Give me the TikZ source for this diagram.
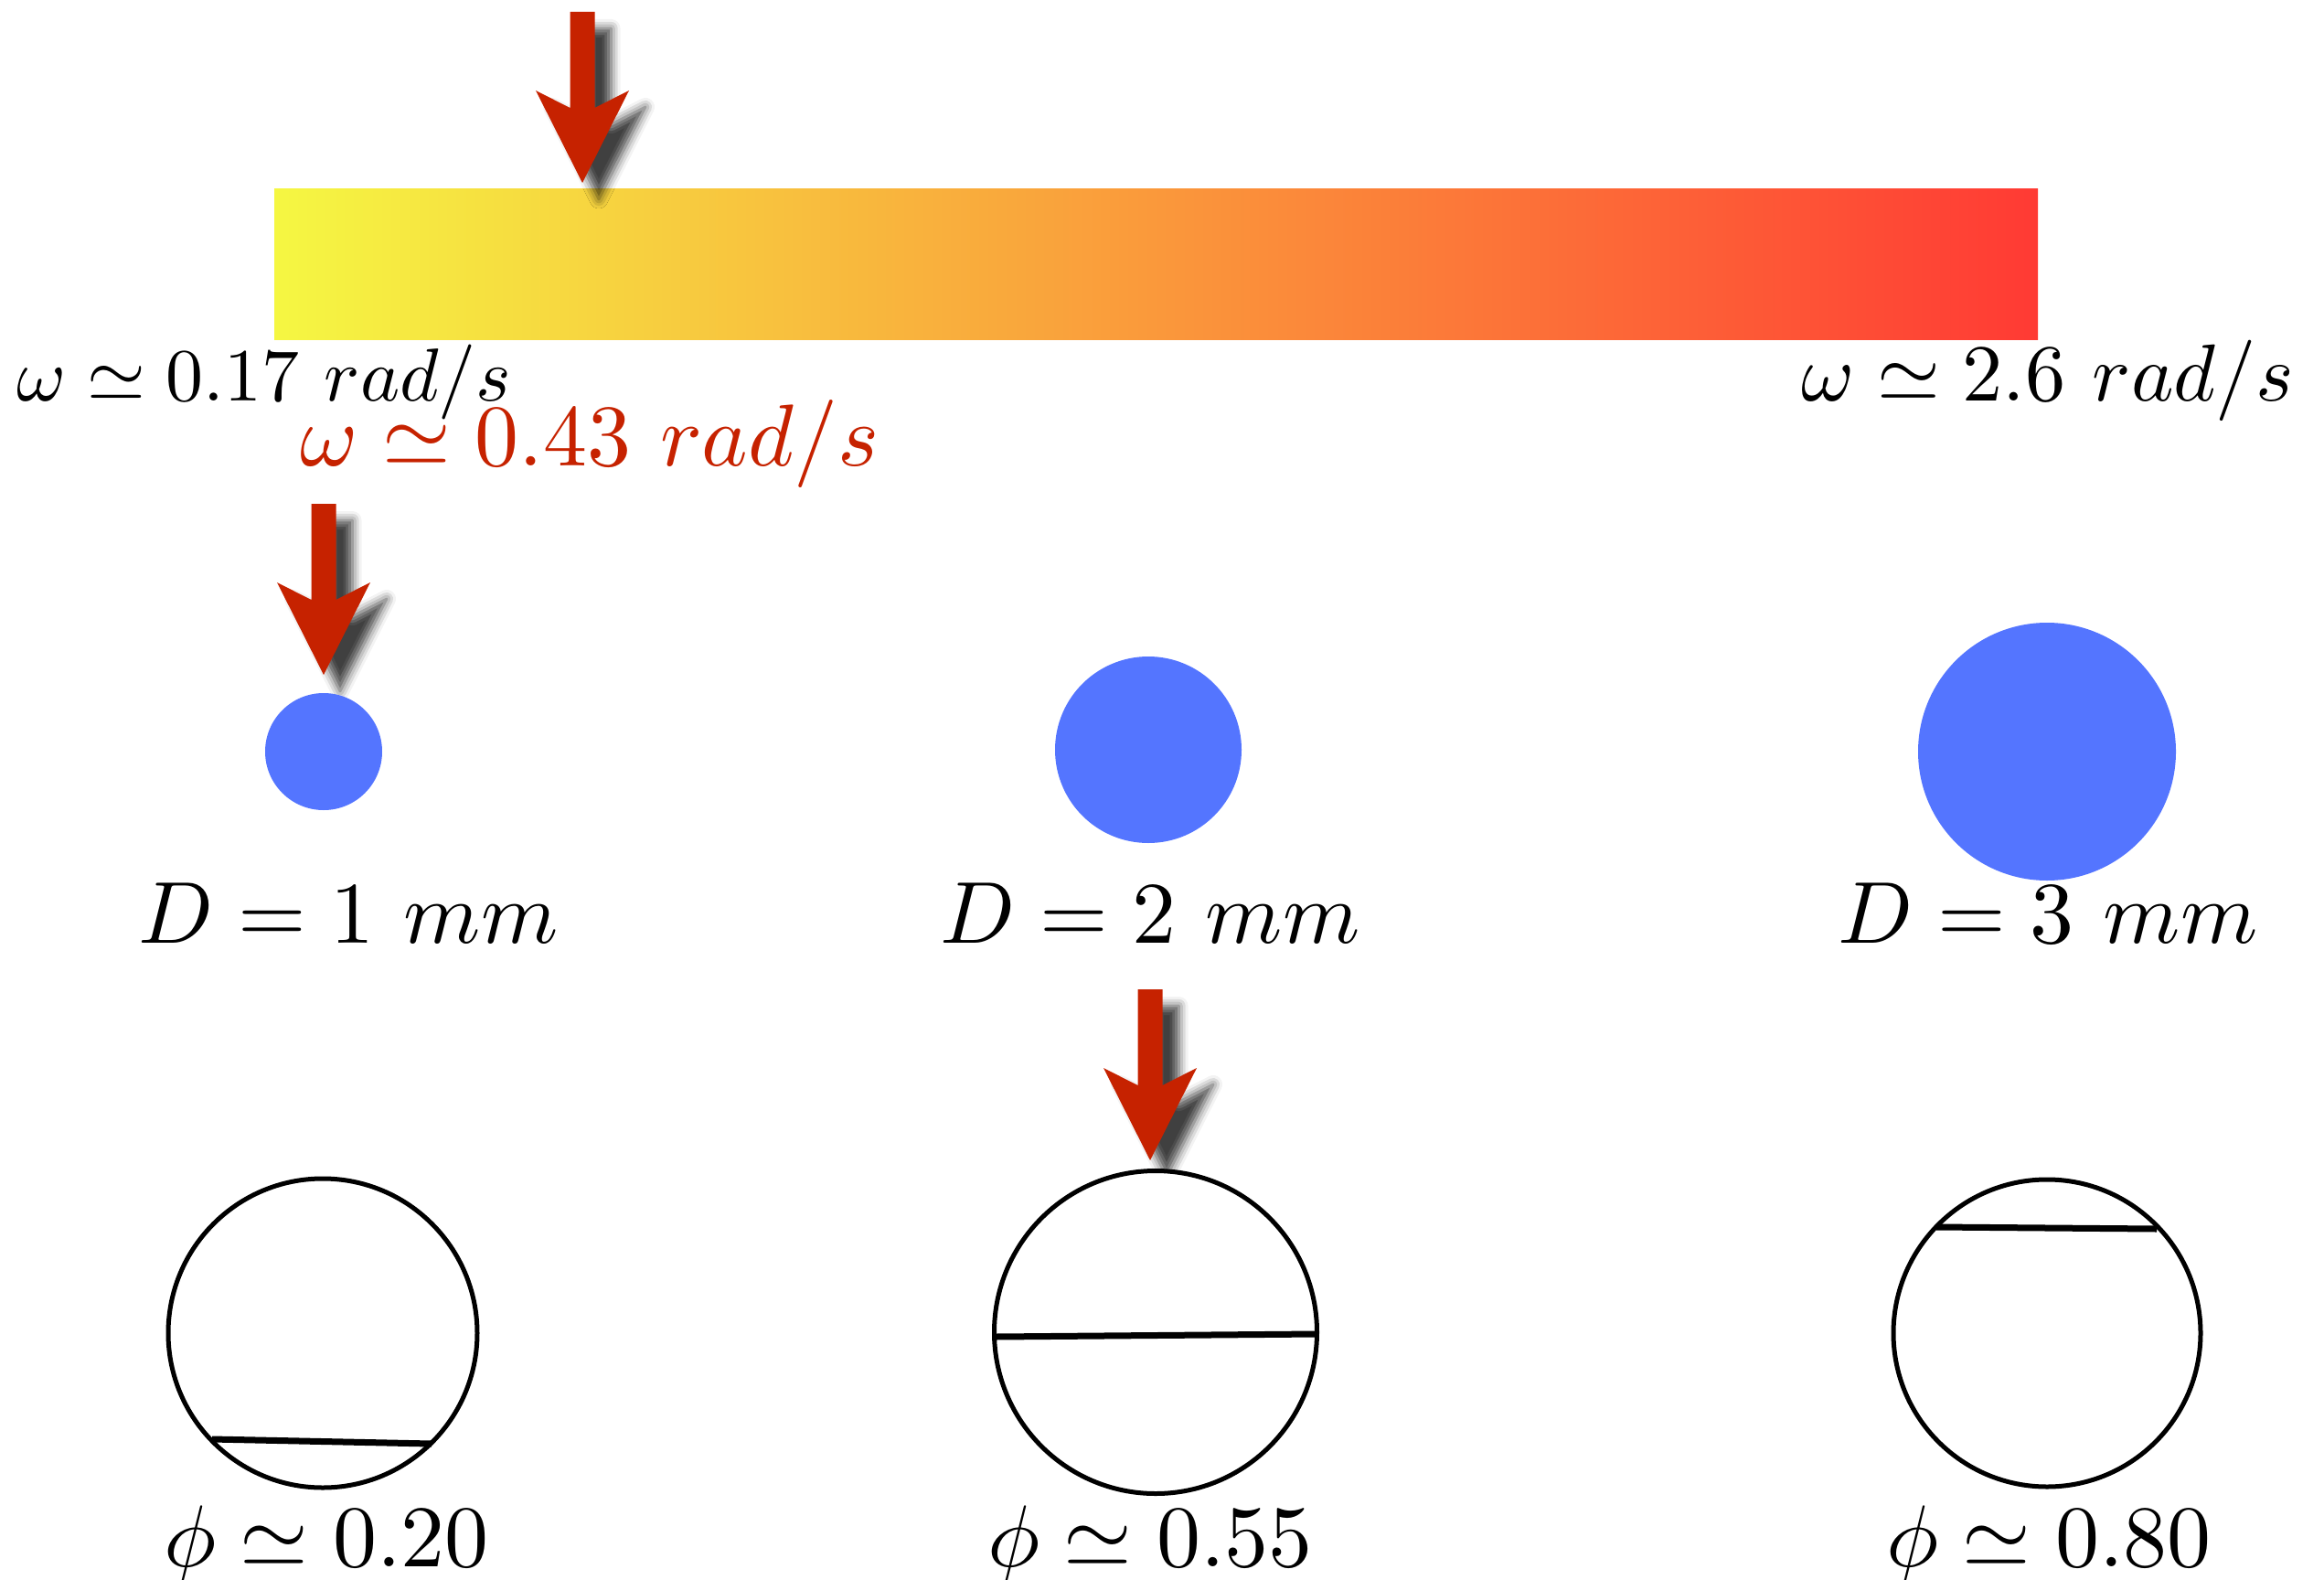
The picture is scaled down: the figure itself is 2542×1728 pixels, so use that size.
\documentclass[tikz,border=0pt]{standalone}
\usepackage{graphicx}
\usetikzlibrary{shadows.blur}
\definecolor{arrred}{RGB}{198,34,0}
\definecolor{dropblue}{RGB}{84,117,255}
\definecolor{barY}{RGB}{245,247,66}
\definecolor{barO}{RGB}{250,165,58}
\definecolor{barR}{RGB}{255,58,52}
\newcommand\blockarrowat[1]{%
  \begin{scope}[shift={(#1)}]
    \fill[arrred, blur shadow={shadow xshift=9pt, shadow yshift=-9pt, shadow blur radius=5pt, shadow opacity=75}]
      (-13.5,-187) -- (13.5,-187) -- (13.5,-82) -- (51,-101) -- (0,0) -- (-51,-101) -- (-13.5,-82) -- cycle;
  \end{scope}}
\newcommand\smalltxt[1]{\scalebox{4.1}{#1}}
\newcommand\midtxt[1]{\scalebox{4.42}{#1}}
\newcommand\bigtxt[1]{\scalebox{4.8}{#1}}
\begin{document}
\begin{tikzpicture}[x=0.5pt,y=-0.5pt,
  lbl/.style={inner sep=0pt, anchor=base},
  tank/.style={draw=black, line width=2.5pt, fill=white},
  level/.style={draw=black, line width=3.5pt},
  drop/.style={fill=dropblue}]
\useasboundingbox (0,0) rectangle (2542,1728);
% gradient bar
\shade[left color=barY, middle color=barO, right color=barR] (300,207) rectangle (2229,371);
% arrows
\blockarrowat{637,200}
\blockarrowat{354,738}
\blockarrowat{1258,1269}
% omega labels
\node[lbl] (w1) at (289,438) {\smalltxt{$\omega\simeq 0.17~rad/s$}};
\node[lbl] (w3) at (2240,438) {\midtxt{$\omega\simeq 2.6~rad/s$}};
\node[lbl, text=arrred] (w2) at (645,509) {\bigtxt{$\omega\simeq 0.43~rad/s$}};
% drops
\fill[drop] (354,822) circle[radius=64];
\fill[drop] (1256,820) circle[radius=102];
\fill[drop] (2239,822) circle[radius=141];
\node[lbl] (d1) at (381,1031) {\bigtxt{$D=1~mm$}};
\node[lbl] (d2) at (1258,1031) {\bigtxt{$D=2~mm$}};
\node[lbl] (d3) at (2240,1031) {\bigtxt{$D=3~mm$}};
% tanks
\draw[tank] (353,1458) circle[radius=169];
\draw[tank] (1264,1457) circle[radius=176.5];
\draw[tank] (2239,1458) circle[radius=168];
\draw[level] (232,1574) -- (472,1579);
\draw[level] (1089,1462) -- (1440,1459);
\draw[level] (2118,1342) -- (2359,1344);
\node[lbl] (p1) at (357,1713) {\bigtxt{$\phi\simeq 0.20$}};
\node[lbl] (p2) at (1258,1713) {\bigtxt{$\phi\simeq 0.55$}};
\node[lbl] (p3) at (2241,1713) {\bigtxt{$\phi\simeq 0.80$}};
\end{tikzpicture}
\end{document}
